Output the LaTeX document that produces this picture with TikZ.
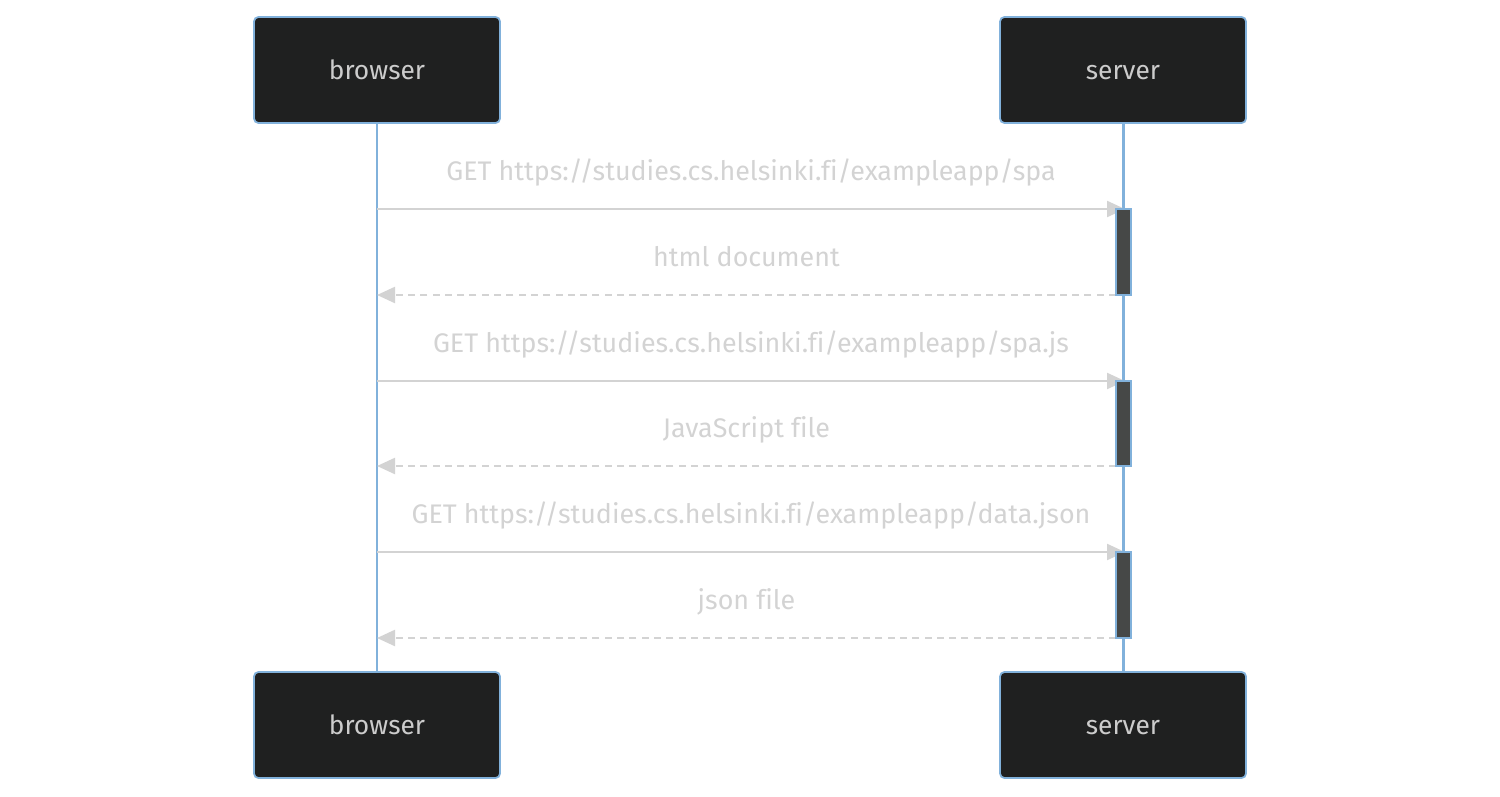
\documentclass[tikz,border=0pt]{standalone}
\usepackage{fontspec}
\setmainfont[Ligatures=NoCommon]{Fira Sans}
\usetikzlibrary{arrows.meta}

\definecolor{actorfill}{HTML}{1F2020}
\definecolor{lifeblue}{HTML}{81B1DB}
\definecolor{msggray}{HTML}{D3D3D3}
\definecolor{actortext}{HTML}{CCCCCC}
\definecolor{activefill}{HTML}{464847}

\tikzset{
  actor/.style={draw=lifeblue, fill=actorfill, line width=1pt, rounded corners=2.5pt,
    minimum width=4.92cm, minimum height=2.12cm, text=actortext,
    font=\fontsize{15}{18}\selectfont, text height=12pt, text depth=1.4pt},
  msg/.style={draw=msggray, line width=1.3pt, -{Triangle[length=0.36cm, width=0.32cm]}},
  reply/.style={msg, dashed, dash pattern=on 4pt off 3pt},
  msglabel/.style={text=msggray, font=\fontsize{15.3}{18}\selectfont,
    execute at begin node=\strut},
  activebox/.style={draw=lifeblue, fill=activefill, line width=0.8pt}
}

\begin{document}
\begin{tikzpicture}[x=0.02cm, y=-0.02cm]
  \useasboundingbox (0,0) rectangle (1500,797);

  % Draw the actors
  \node[actor] (browsertop) at (377,70) {browser};
  \node[actor] (servertop) at (1123,70) {server};
  \node[actor] (browserbot) at (377,725) {browser};
  \node[actor] (serverbot) at (1123,725) {server};

  % Draw the lifelines
  \draw[lifeblue, line width=1.7pt] (browsertop) -- (browserbot);
  \draw[lifeblue, line width=1.7pt] (servertop) -- (serverbot);

  % Points on the lifelines
  \coordinate (b1) at (377,209);  \coordinate (s1) at (1125,209);
  \coordinate (b2) at (377,295);  \coordinate (s2) at (1116,295);
  \coordinate (b3) at (377,381);  \coordinate (s3) at (1125,381);
  \coordinate (b4) at (377,466);  \coordinate (s4) at (1116,466);
  \coordinate (b5) at (377,552);  \coordinate (s5) at (1125,552);
  \coordinate (b6) at (377,638);  \coordinate (s6) at (1116,638);

  % Draw the requests and replies
  \draw[msg] (b1) -- node[msglabel, above=0.24cm] {GET https://studies.cs.helsinki.fi/exampleapp/spa} (s1);
  \draw[reply] (s2) -- node[msglabel, above=0.24cm] {html document} (b2);
  \draw[msg] (b3) -- node[msglabel, above=0.24cm] {GET https://studies.cs.helsinki.fi/exampleapp/spa.js} (s3);
  \draw[reply] (s4) -- node[msglabel, above=0.24cm] {JavaScript file} (b4);
  \draw[msg] (b5) -- node[msglabel, above=0.24cm] {GET https://studies.cs.helsinki.fi/exampleapp/data.json} (s5);
  \draw[reply] (s6) -- node[msglabel, above=0.24cm] {json file} (b6);

  % Draw the activations
  \draw[activebox] (1116,209) rectangle (1131,295);
  \draw[activebox] (1116,381) rectangle (1131,466);
  \draw[activebox] (1116,552) rectangle (1131,638);
\end{tikzpicture}
\end{document}
